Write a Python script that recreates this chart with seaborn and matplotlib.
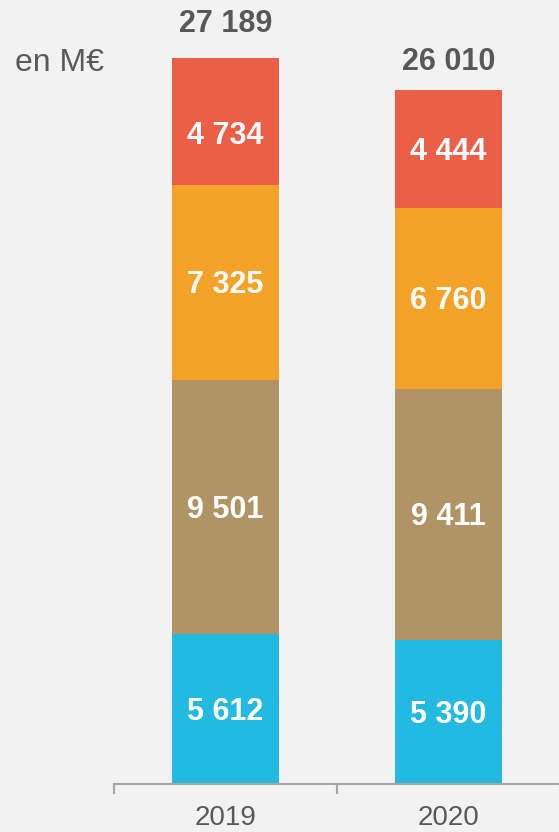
import numpy as np
import pandas as pd
import matplotlib
matplotlib.use('Agg')
import matplotlib.pyplot as plt
import seaborn as sns

# Données (en M€)
years = ['2019', '2020']
seg_bas = [5612, 5390]
seg_2 = [9501, 9411]
seg_3 = [7325, 6760]
seg_haut = [4734, 4444]
totals = [27189, 26010]

couleurs = ['#22BAE0', '#B09465', '#F5A228', '#EB5E47']
BG = '#F2F2F2'
GRIS = '#595959'

sns.set_theme(style='white')
plt.rcParams['font.family'] = ['Liberation Sans', 'DejaVu Sans']

df = pd.DataFrame({'annee': years, 's1': seg_bas, 's2': seg_2, 's3': seg_3, 's4': seg_haut})

fig = plt.figure(figsize=(5.59, 8.32), dpi=100, facecolor=BG)
ax = fig.add_axes([114 / 559, 48 / 832, 446 / 559, 28000 * (726 / 27189) / 832])
ax.set_facecolor(BG)

# barres empilées : on dessine les cumuls du plus haut au plus bas
cols = ['s1', 's2', 's3', 's4']
cumul = df[cols].cumsum(axis=1)
for c, col in reversed(list(zip(couleurs, cols))):
    sns.barplot(x=df['annee'], y=cumul[col], color=c, width=0.48, ax=ax,
                saturation=1, edgecolor='none', linewidth=0)

# étiquettes des segments (petit décalage vertical en points, comme l'original)
decal_seg = {(0, 's4'): -10}
for i in range(len(years)):
    base = 0
    for col in cols:
        v = df.loc[i, col]
        ax.annotate(f'{v:,}'.replace(',', ' '), (i, base + v / 2),
                    xytext=(0, decal_seg.get((i, col), -2)), textcoords='offset points',
                    ha='center', va='center', color='white', fontsize=22, fontweight='bold')
        base += v
# totaux
decal = [14, 9]
for i, t in enumerate(totals):
    ax.annotate(f'{t:,}'.replace(',', ' '), (i, t), xytext=(0, decal[i]),
                textcoords='offset points', ha='center', va='bottom',
                color='#58585A', fontsize=22, fontweight='bold', annotation_clip=False)

fig.text(15 / 559, 1 - 63 / 832, 'en M€', ha='left', va='center', color=GRIS, fontsize=23)

ax.set_xlim(-0.5, 1.5)
ax.set_ylim(0, 28000)
ax.set_xlabel('')
ax.set_ylabel('')
ax.set_yticks([])
for s in ['top', 'right', 'left']:
    ax.spines[s].set_visible(False)
ax.spines['bottom'].set_color('#A6A6A6')
ax.spines['bottom'].set_linewidth(1.5)
ax.set_xticks([0, 1])
ax.set_xticklabels(years)
ax.set_xticks([-0.5, 0.5, 1.5], minor=True)
ax.tick_params(axis='x', which='major', length=0, pad=15, labelsize=20, labelcolor=GRIS)
ax.tick_params(axis='x', which='minor', length=7, width=1.5, color='#A6A6A6', direction='out', bottom=True)

fig.savefig('out.png', dpi=100, facecolor=BG)
